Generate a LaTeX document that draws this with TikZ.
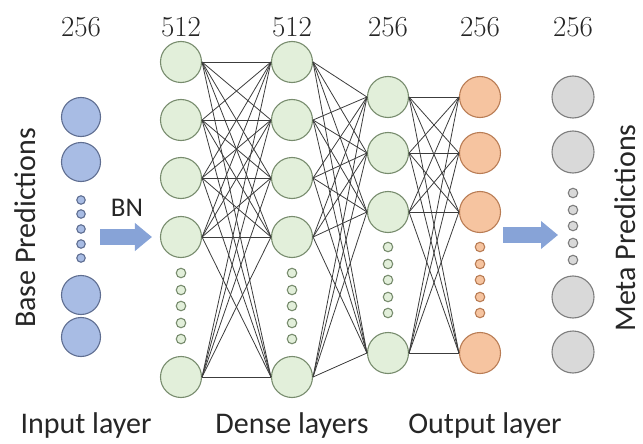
\documentclass[tikz,border=0pt]{standalone}
\usepackage{fontspec}
\newfontfamily\calfont{Carlito}
\usetikzlibrary{arrows.meta}
\definecolor{bluefill}{RGB}{168,188,228}
\definecolor{bluedraw}{RGB}{95,110,145}
\definecolor{greenfill}{RGB}{226,239,218}
\definecolor{greendraw}{RGB}{120,140,110}
\definecolor{orangefill}{RGB}{246,196,160}
\definecolor{orangedraw}{RGB}{185,125,85}
\definecolor{grayfill}{RGB}{217,217,217}
\definecolor{graydraw}{RGB}{125,125,125}
\definecolor{arrowblue}{RGB}{135,163,215}
\definecolor{linkgray}{RGB}{60,60,60}
\tikzset{
  neuron/.style={circle,inner sep=0pt,minimum size=41pt,line width=1.1pt},
  smalldot/.style={circle,inner sep=0pt,minimum size=9.5pt,line width=1.1pt},
  bluen/.style={fill=bluefill,draw=bluedraw},
  greenn/.style={fill=greenfill,draw=greendraw},
  orangen/.style={fill=orangefill,draw=orangedraw},
  grayn/.style={fill=grayfill,draw=graydraw},
  link/.style={draw=linkgray,line width=0.8pt},
  blockarrow/.style={draw=arrowblue,line width=16pt,-{Triangle[length=17pt,width=27pt]}},
  toplabel/.style={anchor=base,font=\fontsize{29}{29}\selectfont,text=black!85},
  botlabel/.style={anchor=base,font=\calfont\fontsize{30}{30}\selectfont,text=black!85},
  sidelabel/.style={rotate=90,inner sep=0pt,font=\calfont\fontsize{30}{30}\selectfont,text=black!85}
}
\begin{document}
\begin{tikzpicture}[x=1pt,y=-1pt]
\useasboundingbox (0,0) rectangle (643,444);
% top labels
\node[toplabel] (t0) at (81,37) {256};
\node[toplabel] (t1) at (181,37) {512};
\node[toplabel] (t2) at (292,37) {512};
\node[toplabel] (t3) at (388,37) {256};
\node[toplabel] (t4) at (480,37) {256};
\node[toplabel] (t5) at (573,37) {256};
% input layer
\foreach \i/\y in {1/117,2/162,3/295,4/337}
  \node[neuron,bluen,minimum size=39pt] (in\i) at (81,\y) {};
\foreach \i/\y in {1/200,2/214,3/229,4/244,5/258}
  \node[smalldot,bluen,minimum size=8.5pt] (ind\i) at (81,\y) {};
% dense layers
\foreach \i/\y in {1/62,2/120,3/178,4/237,5/377}{
  \node[neuron,greenn] (da\i) at (181,\y) {};
  \node[neuron,greenn] (db\i) at (292,\y) {};
}
\foreach \i/\y in {1/273,2/290,3/306,4/323,5/339}{
  \node[smalldot,greenn] (dad\i) at (181,\y) {};
  \node[smalldot,greenn] (dbd\i) at (292,\y) {};
}
% third layer and output layer
\foreach \i/\y in {1/97,2/153,3/212,4/353}{
  \node[neuron,greenn] (lc\i) at (388,\y) {};
  \node[neuron,orangen] (out\i) at (480,\y) {};
}
\foreach \i/\y in {1/247,2/264,3/280,4/297,5/313}{
  \node[smalldot,greenn] (lcd\i) at (388,\y) {};
  \node[smalldot,orangen] (outd\i) at (480,\y) {};
}
% meta predictions
\foreach \i/\y in {1/97,2/152,3/297,4/352}
  \node[neuron,grayn,minimum size=42pt] (m\i) at (573,\y) {};
\foreach \i/\y in {1/193,2/210,3/226,4/243,5/260}
  \node[smalldot,grayn] (md\i) at (573,\y) {};
% connections
\foreach \a in {1,...,5}
  \foreach \b in {1,...,5}
    \draw[link] (da\a.east) -- (db\b.west);
\foreach \a in {1,...,5}
  \foreach \b in {1,...,4}
    \draw[link] (db\a.east) -- (lc\b.west);
\foreach \a in {1,...,4}
  \foreach \b in {1,...,4}
    \draw[link] (lc\a.east) -- (out\b.west);
% arrows
\coordinate (bnstart) at (100,237);
\draw[blockarrow,shorten >=8pt] (bnstart) -- (da4.west);
\node[font=\calfont\fontsize{27}{27}\selectfont,text=black!85] (bn) at (127,208) {BN};
\coordinate (metastart) at (503,235);
\coordinate (metaend) at (558,235);
\draw[blockarrow] (metastart) -- (metaend);
% bottom labels
\node[botlabel] (lin) at (86,433) {Input layer};
\node[botlabel] (lden) at (292,433) {Dense layers};
\node[botlabel] (lout) at (485,433) {Output layer};
% side labels
\node[sidelabel] (base) at (25,228) {Base Predictions};
\node[sidelabel] (meta) at (625,228) {Meta Predictions};
\end{tikzpicture}
\end{document}
